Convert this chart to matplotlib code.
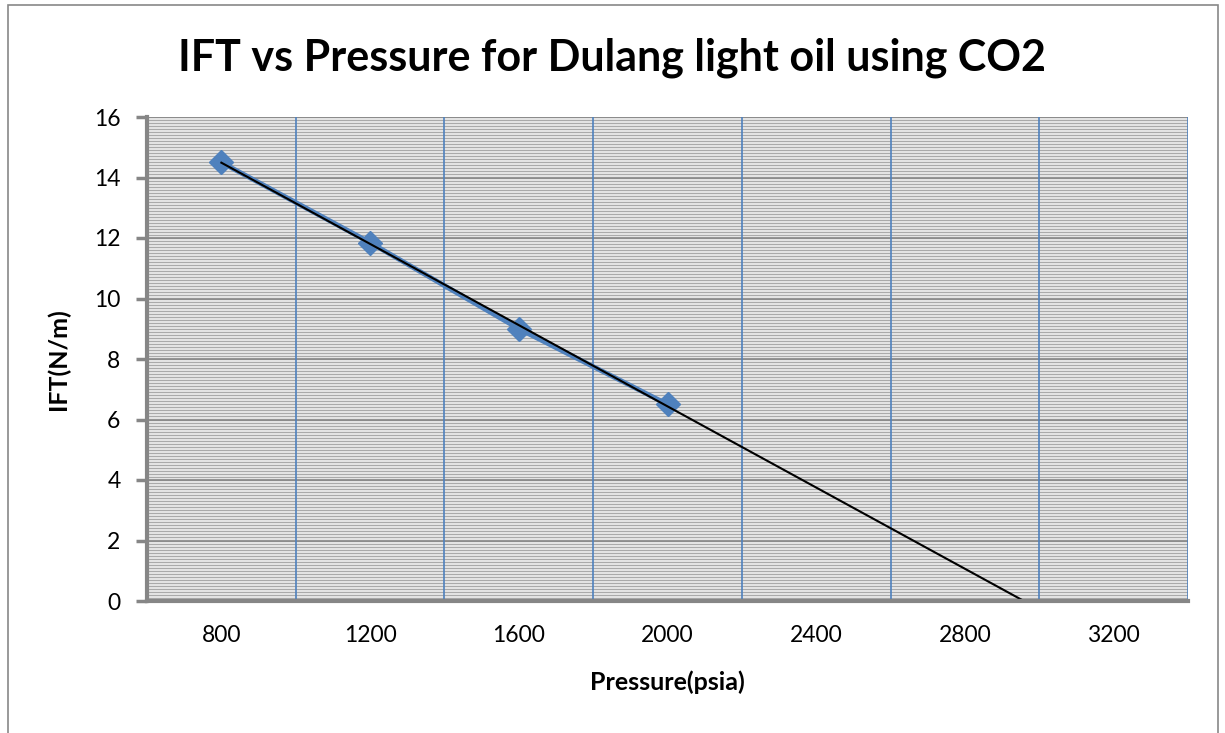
import matplotlib.pyplot as plt
import numpy as np
from matplotlib.patches import Rectangle

# IFT data
pressure = [800, 1200, 1600, 2000]
ift = [14.5, 11.85, 9.0, 6.5]
x_ticks = [800, 1200, 1600, 2000, 2400, 2800, 3200]
y_ticks = [0, 2, 4, 6, 8, 10, 12, 14, 16]

plt.rcParams['font.family'] = ['Lato', 'DejaVu Sans']

fig = plt.figure(figsize=(12.25, 7.33), dpi=100)
ax = fig.add_axes([147/1225, 1 - 601/733, (1188 - 147)/1225, (601 - 117)/733])

# Excel style plot area: grey background with dense minor gridlines
ax.set_facecolor('#e3e3e3')
for y in np.arange(0, 16.01, 0.1):
    ax.axhline(y, color='#a9a9a9', lw=0.7, zorder=0.5)
for y in y_ticks:
    ax.axhline(y, color='#868686', lw=1.2, zorder=0.6)
for x in np.arange(1000, 3401, 400):
    ax.axvline(x, color='#4f81bd', lw=1.2, zorder=0.7)

# data series
ax.plot(pressure, ift, color='#4f81bd', lw=3.5, marker='D', ms=12,
        mec='#4f81bd', mfc='#4f81bd', zorder=3)

# linear trendline, forecast forward
coef = np.polyfit(pressure, ift, 1)
tx = np.array([pressure[0], 3000])
ax.plot(tx, np.polyval(coef, tx), color='black', lw=1.5, zorder=4)

ax.set_xlim(600, 3400)
ax.set_ylim(0, 16)
ax.set_xticks(x_ticks)
ax.set_yticks(y_ticks)
ax.tick_params(axis='x', length=0, labelsize=16.5, pad=17)
ax.tick_params(axis='y', length=8, width=2.5, color='#868686', labelsize=16.5, pad=11)

for s in ['top', 'right']:
    ax.spines[s].set_visible(False)
for s in ['left', 'bottom']:
    ax.spines[s].set_color('#868686')
    ax.spines[s].set_linewidth(3)
    ax.spines[s].set_zorder(5)

ax.set_xlabel('Pressure(psia)', fontsize=18, fontweight='bold', labelpad=18)
ax.set_ylabel('IFT(N/m)', fontsize=18, fontweight='bold', labelpad=17)

fig.text(0.5, 1 - 58/733, 'IFT vs Pressure for Dulang light oil using CO2',
         ha='center', va='center', fontsize=31, fontweight='bold')

# chart border
fig.patches.append(Rectangle((8/1225, -0.05), (1218 - 8)/1225, 1.05 - 5/733,
                             transform=fig.transFigure, fill=False,
                             edgecolor='#888888', lw=1.2))

fig.savefig('out.png', dpi=100)
